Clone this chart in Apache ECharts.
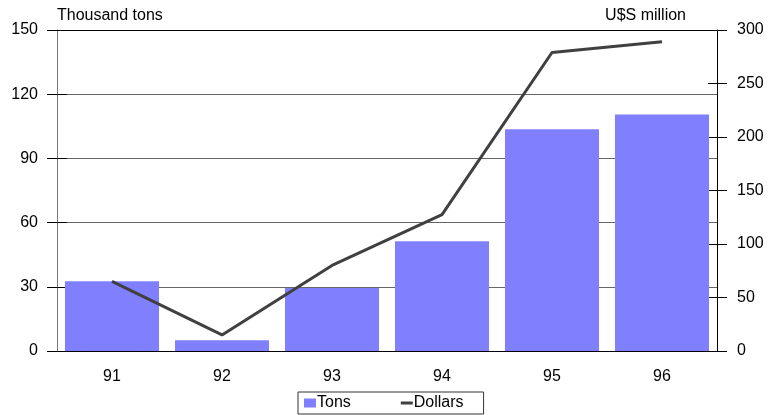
<!DOCTYPE html>
<html>
<head>
<meta charset="utf-8">
<script src="https://cdn.jsdelivr.net/npm/echarts@6/dist/echarts.min.js"></script>
<style>
  html, body { margin: 0; padding: 0; background: #fff; }
  #chart { width: 768px; height: 415px; }
</style>
</head>
<body>
<div id="chart"></div>
<script>
// Years shown on the category axis
const years = ['91', '92', '93', '94', '95', '96'];
// Volume, thousand tons (left axis)
const tons = [32.6, 5.0, 29.4, 51.3, 103.6, 110.5];
// Value, US$ million (right axis)
const dollars = [65, 15, 80, 127.5, 279, 289];

const FONT = 'Liberation Sans, Arial, sans-serif';
const chart = echarts.init(document.getElementById('chart'));

chart.setOption({
  animation: false,
  backgroundColor: '#fff',
  textStyle: { fontFamily: FONT },
  grid: { left: 57, right: 51, top: 30, bottom: 64, containLabel: false },
  title: [
    { text: 'Thousand tons', left: 57, top: 8, padding: 0,
      textStyle: { fontSize: 16, fontWeight: 'normal', color: '#000', fontFamily: FONT } },
    { text: 'U$S million', right: 82, top: 8, padding: 0,
      textStyle: { fontSize: 16, fontWeight: 'normal', color: '#000', fontFamily: FONT } }
  ],
  legend: {
    left: 298, top: 392,
    padding: [3, 20, 3, 6],
    borderColor: '#333', borderWidth: 1,
    itemGap: 50,
    itemWidth: 12, itemHeight: 9,
    textStyle: { fontSize: 16, color: '#000', fontFamily: FONT, padding: [0, 0, 0, -4] },
    data: [
      { name: 'Tons', icon: 'rect' },
      // thin bar centred in a 12x9 box (the leading/trailing moves set the box)
      { name: 'Dollars', icon: 'path://M0,0 M0,3 L12,3 L12,6 L0,6 Z M12,9' }
    ]
  },
  xAxis: [
    {
      type: 'category', data: years, position: 'bottom',
      axisLine: { lineStyle: { color: '#000', width: 1 } },
      axisTick: { alignWithLabel: true, inside: false, length: 9, lineStyle: { color: '#000' } },
      axisLabel: { color: '#000', fontSize: 16, margin: 18, fontFamily: FONT },
      splitLine: { show: false }
    },
    {
      type: 'category', data: years, position: 'bottom',
      axisLine: { show: false },
      axisTick: { alignWithLabel: true, inside: true, length: 10, lineStyle: { color: '#000' } },
      axisLabel: { show: false },
      splitLine: { show: false }
    }
  ],
  yAxis: [
    {
      type: 'value', min: 0, max: 150, interval: 30, position: 'left',
      axisLine: { show: true, lineStyle: { color: '#777', width: 1 } },
      axisTick: { show: true, inside: false, length: 10, lineStyle: { color: '#000' } },
      axisLabel: { color: '#000', fontSize: 16, margin: 19, fontFamily: FONT },
      splitLine: { show: true, lineStyle: { color: ['#000', '#666', '#666', '#666', '#666', '#000'], width: 1 } }
    },
    {
      type: 'value', min: 0, max: 300, interval: 50, position: 'right',
      axisLine: { show: true, lineStyle: { color: '#000', width: 1 } },
      axisTick: { show: true, inside: false, length: 10, lineStyle: { color: '#000' } },
      axisLabel: { color: '#000', fontSize: 16, margin: 20, fontFamily: FONT },
      splitLine: { show: false }
    },
    {
      type: 'value', min: 0, max: 300, interval: 50, position: 'right',
      axisLine: { show: false },
      axisTick: { show: true, inside: true, length: 9, lineStyle: { color: '#000' } },
      axisLabel: { show: false },
      splitLine: { show: false }
    },
    {
      type: 'value', min: 0, max: 150, interval: 30, position: 'left',
      axisLine: { show: false },
      axisTick: { show: true, inside: true, length: 10, lineStyle: { color: '#000' } },
      axisLabel: { show: false },
      splitLine: { show: false }
    }
  ],
  series: [
    {
      name: 'Tons', type: 'bar', data: tons,
      xAxisIndex: 0, yAxisIndex: 0,
      barCategoryGap: '14.5%',
      itemStyle: { color: '#8080ff' },
      z: 2
    },
    {
      name: 'Dollars', type: 'line', data: dollars,
      xAxisIndex: 0, yAxisIndex: 1,
      symbol: 'none',
      lineStyle: { color: '#404040', width: 3 },
      itemStyle: { color: '#404040' },
      z: 5
    }
  ]
});
</script>
</body>
</html>
